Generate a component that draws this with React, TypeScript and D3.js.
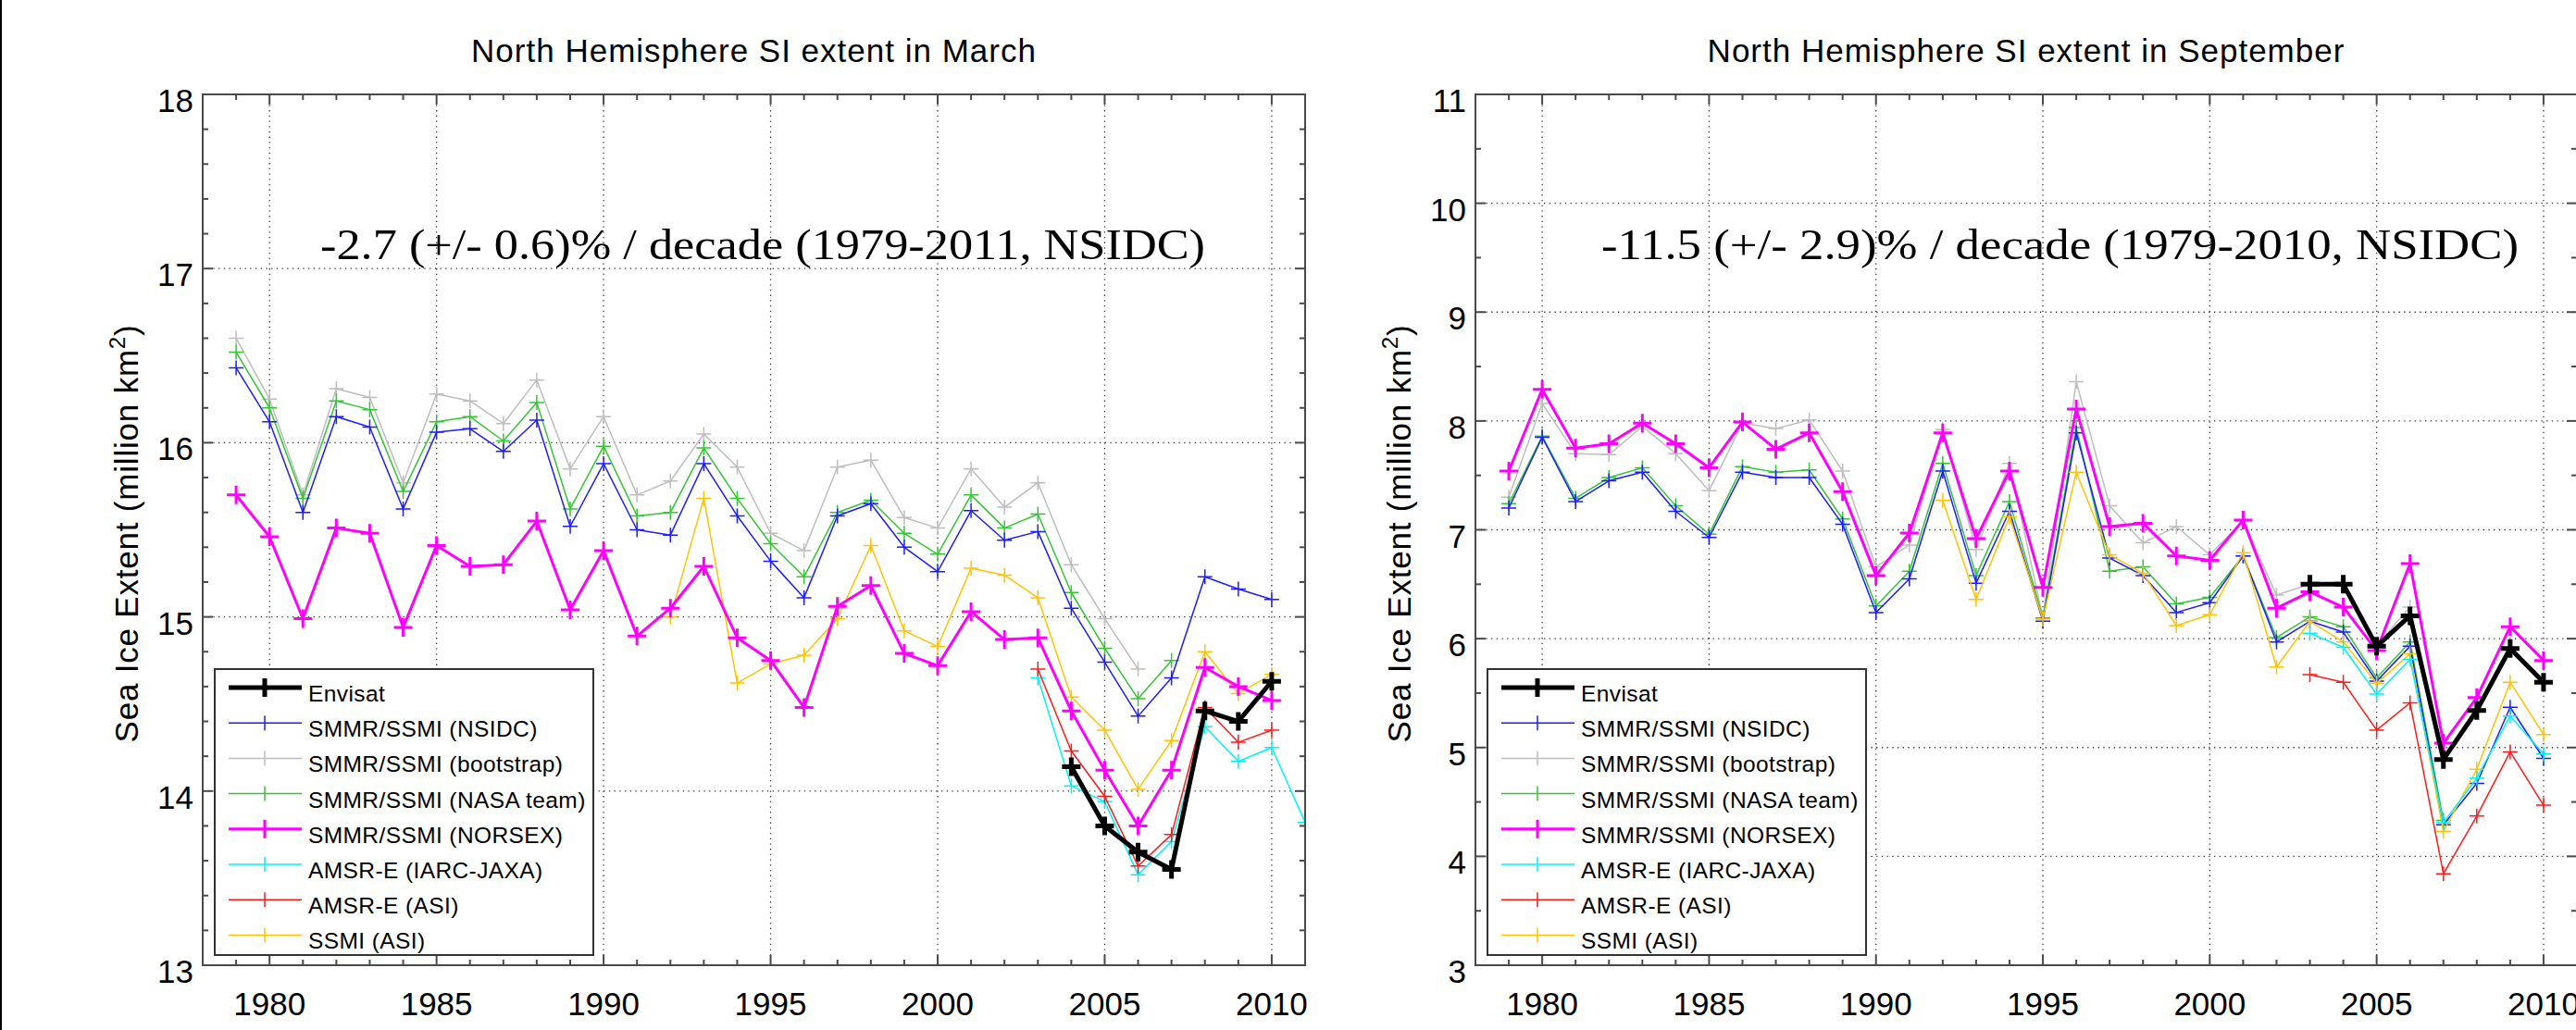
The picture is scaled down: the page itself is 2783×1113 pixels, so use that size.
import React, { useEffect } from 'react';
import * as d3 from 'd3';

// ---------- DATA ----------
const years = [1979, 1980, 1981, 1982, 1983, 1984, 1985, 1986, 1987, 1988, 1989, 1990, 1991, 1992, 1993, 1994, 1995, 1996, 1997, 1998, 1999, 2000, 2001, 2002, 2003, 2004, 2005, 2006, 2007, 2008, 2009, 2010, 2011];

// March (values in million km^2)
const marNsidc = [16.43, 16.12, 15.60, 16.15, 16.09, 15.62, 16.06, 16.08, 15.95, 16.13, 15.52, 15.88, 15.50, 15.47, 15.88, 15.58, 15.32, 15.11, 15.58, 15.65, 15.40, 15.26, 15.61, 15.44, 15.49, 15.05, 14.74, 14.43, 14.65, 15.23, 15.16, 15.10];
const marBootstrap = [16.60, 16.25, 15.70, 16.31, 16.26, 15.77, 16.28, 16.24, 16.11, 16.36, 15.85, 16.15, 15.70, 15.78, 16.05, 15.86, 15.48, 15.38, 15.86, 15.90, 15.57, 15.51, 15.85, 15.63, 15.77, 15.30, 14.99, 14.70];
const marNasa = [16.52, 16.20, 15.68, 16.24, 16.19, 15.72, 16.12, 16.15, 16.01, 16.23, 15.62, 15.98, 15.58, 15.60, 15.97, 15.68, 15.42, 15.23, 15.60, 15.67, 15.48, 15.36, 15.70, 15.51, 15.59, 15.14, 14.82, 14.53, 14.75];
const marNorsex = [15.70, 15.46, 14.99, 15.51, 15.48, 14.94, 15.41, 15.29, 15.30, 15.55, 15.04, 15.38, 14.89, 15.05, 15.29, 14.88, 14.75, 14.48, 15.06, 15.18, 14.79, 14.72, 15.03, 14.87, 14.88, 14.46, 14.12, 13.80, 14.12, 14.71, 14.60, 14.52];
const marSsmiAsi = [15.00, 15.68, 14.62, 14.73, 14.78, 14.99, 15.41, 14.92, 14.83, 15.28, 15.24, 15.11, 14.54, 14.35, 14.01, 14.29, 14.80, 14.56, 14.67];
const marAmsrAsi = [14.70, 14.23, 13.97, 13.57, 13.75, 14.48, 14.28, 14.35];
const marJaxa = [14.65, 14.03, 13.94, 13.52, 13.71, 14.37, 14.17, 14.25, 13.82];
const marEnvisat = [14.14, 13.80, 13.65, 13.55, 14.46, 14.40, 14.63];

// September
const sepNsidc = [7.20, 7.85, 7.26, 7.45, 7.53, 7.17, 6.93, 7.53, 7.48, 7.48, 7.05, 6.24, 6.55, 7.54, 6.51, 7.17, 6.16, 7.89, 6.74, 6.58, 6.24, 6.33, 6.76, 5.97, 6.16, 6.06, 5.61, 5.93, 4.29, 4.67, 5.37, 4.90];
const sepBootstrap = [7.30, 8.16, 7.70, 7.69, 7.95, 7.70, 7.36, 7.98, 7.93, 8.01, 7.54, 6.66, 6.86, 7.92, 6.82, 7.61, 6.19, 8.36, 7.22, 6.88, 7.03, 6.77, 7.08, 6.40, 6.50, 6.50, 5.94, 6.29];
const sepNasa = [7.24, 7.86, 7.29, 7.48, 7.57, 7.22, 6.96, 7.58, 7.53, 7.55, 7.10, 6.30, 6.62, 7.61, 6.58, 7.26, 6.19, 7.94, 6.62, 6.66, 6.32, 6.38, 6.76, 6.01, 6.20, 6.11, 5.64, 5.97, 4.33];
const sepNorsex = [7.54, 8.29, 7.75, 7.79, 7.98, 7.79, 7.57, 7.99, 7.74, 7.89, 7.35, 6.58, 6.97, 7.89, 6.92, 7.54, 6.47, 8.11, 7.03, 7.06, 6.76, 6.72, 7.09, 6.28, 6.43, 6.29, 5.89, 6.69, 5.04, 5.46, 6.11, 5.80];
const sepSsmiAsi = [7.27, 6.36, 7.12, 6.18, 7.53, 6.77, 6.60, 6.12, 6.22, 6.79, 5.74, 6.16, 5.97, 5.59, 5.86, 4.23, 4.80, 5.60, 5.12];
const sepAmsrAsi = [5.67, 5.60, 5.16, 5.41, 3.84, 4.37, 4.96, 4.47];
const sepJaxa = [6.05, 5.92, 5.49, 5.81, 4.31, 4.72, 5.29, 4.94];
const sepEnvisat = [6.50, 6.50, 5.93, 6.21, 4.89, 5.34, 5.91, 5.60];

const legendLabels = ['Envisat', 'SMMR/SSMI (NSIDC)', 'SMMR/SSMI (bootstrap)', 'SMMR/SSMI (NASA team)', 'SMMR/SSMI (NORSEX)', 'AMSR-E (IARC-JAXA)', 'AMSR-E (ASI)', 'SSMI (ASI)'];
const xTickLabels = [1980, 1985, 1990, 1995, 2000, 2005, 2010];
const marYTicks = [13, 14, 15, 16, 17, 18];
const sepYTicks = [3, 4, 5, 6, 7, 8, 9, 10, 11];

// ---------- STYLES ----------
const styles: Record<string, { color: string; width: number; mark: number }> = {
  envisat: { color: '#000000', width: 5, mark: 10 },
  nsidc: { color: '#1c1cff', width: 1.5, mark: 8 },
  bootstrap: { color: '#bdbdbd', width: 1.5, mark: 8 },
  nasa: { color: '#36c436', width: 1.5, mark: 8 },
  norsex: { color: '#ff00ff', width: 3, mark: 10 },
  jaxa: { color: '#00f4f4', width: 1.5, mark: 8 },
  asi: { color: '#ff1a1a', width: 1.5, mark: 8 },
  ssmi: { color: '#ffc400', width: 1.5, mark: 8 },
};
const legendKeys = ['envisat', 'nsidc', 'bootstrap', 'nasa', 'norsex', 'jaxa', 'asi', 'ssmi'];
const drawOrder = ['bootstrap', 'nasa', 'nsidc', 'ssmi', 'norsex', 'jaxa', 'asi', 'envisat'];

type SeriesDef = { key: string; start: number; values: number[] };

const marchSeries: SeriesDef[] = [
  { key: 'nsidc', start: 1979, values: marNsidc },
  { key: 'bootstrap', start: 1979, values: marBootstrap },
  { key: 'nasa', start: 1979, values: marNasa },
  { key: 'norsex', start: 1979, values: marNorsex },
  { key: 'ssmi', start: 1992, values: marSsmiAsi },
  { key: 'asi', start: 2003, values: marAmsrAsi },
  { key: 'jaxa', start: 2003, values: marJaxa },
  { key: 'envisat', start: 2004, values: marEnvisat },
];
const septSeries: SeriesDef[] = [
  { key: 'nsidc', start: 1979, values: sepNsidc },
  { key: 'bootstrap', start: 1979, values: sepBootstrap },
  { key: 'nasa', start: 1979, values: sepNasa },
  { key: 'norsex', start: 1979, values: sepNorsex },
  { key: 'ssmi', start: 1992, values: sepSsmiAsi },
  { key: 'asi', start: 2003, values: sepAmsrAsi },
  { key: 'jaxa', start: 2003, values: sepJaxa },
  { key: 'envisat', start: 2003, values: sepEnvisat },
];

const FONT = '"Liberation Sans", Arial, Helvetica, sans-serif';
const SERIF = '"Liberation Serif", "Times New Roman", serif';
const AXIS = '#4a4a4a';

type PanelProps = {
  id: string;
  x0: number; x1: number; y0: number; y1: number;
  yDomain: [number, number];
  yMinorStep: number;
  yTicks: number[];
  series: SeriesDef[];
  title: string;
  note: string;
  noteX: number; noteLen: number;
};

function plusPath(x: number, y: number, s: number) {
  return `M${x - s},${y}H${x + s}M${x},${y - s}V${y + s}`;
}

function Panel(p: PanelProps) {
  const x = d3.scaleLinear().domain([1978, 2011]).range([p.x0, p.x1]);
  const y = d3.scaleLinear().domain(p.yDomain).range([p.y1, p.y0]);
  const line = d3.line<[number, number]>().x(d => x(d[0])).y(d => y(d[1]));
  const minorX = d3.range(1978, 2012, 1);
  const nMinorY = Math.round((p.yDomain[1] - p.yDomain[0]) / p.yMinorStep);
  const minorY = d3.range(0, nMinorY + 1).map(i => p.yDomain[0] + i * p.yMinorStep);
  const byKey: Record<string, SeriesDef> = {};
  p.series.forEach(s => (byKey[s.key] = s));
  const cx = (p.x0 + p.x1) / 2;
  const cy = (p.y0 + p.y1) / 2;
  const gridStyle = { stroke: '#333', strokeWidth: 1.3, strokeDasharray: '1.3 4.4' };
  const lgX = p.x0 + 13, lgY = 723, lgW = 409, lgH = 309;
  return (
    <g>
      <defs>
        <clipPath id={`clip-${p.id}`}>
          <rect x={p.x0} y={p.y0} width={p.x1 - p.x0} height={p.y1 - p.y0} />
        </clipPath>
      </defs>
      {/* grid */}
      {xTickLabels.map(t => (
        <line key={`gx${t}`} x1={x(t)} x2={x(t)} y1={p.y0} y2={p.y1} {...gridStyle} />
      ))}
      {p.yTicks.filter(t => t > p.yDomain[0] && t < p.yDomain[1]).map(t => (
        <line key={`gy${t}`} x1={p.x0} x2={p.x1} y1={y(t)} y2={y(t)} {...gridStyle} />
      ))}
      {/* data */}
      <g clipPath={`url(#clip-${p.id})`}>
        {drawOrder.map(k => {
          const s = byKey[k];
          if (!s) return null;
          const st = styles[k];
          const startIdx = years.indexOf(s.start);
          const pts: [number, number][] = s.values.map((v, i) => [years[startIdx + i], v]);
          return (
            <g key={k}>
              <path d={line(pts) || ''} fill="none" stroke={st.color} strokeWidth={st.width} strokeLinejoin="round" />
              <path d={pts.map(d => plusPath(x(d[0]), y(d[1]), st.mark)).join('')} fill="none" stroke={st.color} strokeWidth={st.width} />
            </g>
          );
        })}
      </g>
      {/* frame */}
      <rect x={p.x0} y={p.y0} width={p.x1 - p.x0} height={p.y1 - p.y0} fill="none" stroke={AXIS} strokeWidth={2} />
      {/* x ticks */}
      {minorX.map(t => {
        const major = t % 5 === 0;
        const L = major ? 11 : 6;
        return (
          <g key={`tx${t}`}>
            <line x1={x(t)} x2={x(t)} y1={p.y1} y2={p.y1 - L} stroke={AXIS} strokeWidth={2} />
            <line x1={x(t)} x2={x(t)} y1={p.y0} y2={p.y0 + L} stroke={AXIS} strokeWidth={2} />
          </g>
        );
      })}
      {minorY.map((t, i) => {
        const major = Math.abs(t - Math.round(t)) < 1e-6;
        const L = major ? 11 : 6;
        return (
          <g key={`ty${i}`}>
            <line x1={p.x0} x2={p.x0 + L} y1={y(t)} y2={y(t)} stroke={AXIS} strokeWidth={2} />
            <line x1={p.x1} x2={p.x1 - L} y1={y(t)} y2={y(t)} stroke={AXIS} strokeWidth={2} />
          </g>
        );
      })}
      {/* tick labels */}
      {xTickLabels.map(t => (
        <text key={`lx${t}`} x={x(t)} y={1097} textAnchor="middle" fontFamily={FONT} fontSize={35} fill="#000">{t}</text>
      ))}
      {p.yTicks.map(t => (
        <text key={`ly${t}`} x={p.x0 - 10} y={y(t) + 19} textAnchor="end" fontFamily={FONT} fontSize={35} fill="#000">{t}</text>
      ))}
      {/* axis title */}
      <text transform={`translate(${p.x0 - 70},${cy + 4}) rotate(-90)`} textAnchor="middle" fontFamily={FONT} fontSize={35} letterSpacing={0.8} fill="#000">
        Sea Ice Extent (million km<tspan dy={-14} fontSize={24}>2</tspan><tspan dy={14}>)</tspan>
      </text>
      {/* title */}
      <text x={cx} y={67} textAnchor="middle" fontFamily={FONT} fontSize={35} letterSpacing={1} fill="#000">{p.title}</text>
      {/* note */}
      <text x={p.noteX} y={280} fontFamily={SERIF} fontSize={46} fill="#000" textLength={p.noteLen} lengthAdjust="spacingAndGlyphs">{p.note}</text>
      {/* legend */}
      <rect x={lgX} y={lgY} width={lgW} height={lgH} fill="#fff" stroke="#333" strokeWidth={2} />
      {legendKeys.map((k, i) => {
        const st = styles[k];
        const ly = lgY + 20 + i * 38.2;
        const lx0 = lgX + 15;
        const lx1 = lgX + 94;
        const mx = lgX + 54;
        return (
          <g key={`lg${k}`}>
            <line x1={lx0} x2={lx1} y1={ly} y2={ly} stroke={st.color} strokeWidth={st.width} />
            <line x1={mx} x2={mx} y1={ly - st.mark} y2={ly + st.mark} stroke={st.color} strokeWidth={st.width} />
            <text x={lgX + 101} y={ly + 15} fontFamily={FONT} fontSize={24.5} letterSpacing={0.4} fill="#000">{legendLabels[i]}</text>
          </g>
        );
      })}
    </g>
  );
}

export default function App() {
  useEffect(() => {
    document.body.style.margin = '0';
    document.body.style.overflow = 'hidden';
  }, []);
  return (
    <svg width={2783} height={1113} viewBox="0 0 2783 1113" style={{ position: 'absolute', left: 0, top: 0, background: '#fff' }}>
      <rect x={0} y={0} width={2783} height={1113} fill="#fff" />
      <Panel id="mar" x0={219} x1={1410} y0={102} y1={1043} yDomain={[13, 18]} yMinorStep={0.2} yTicks={marYTicks}
        series={marchSeries} title="North Hemisphere SI extent in March"
        note="-2.7 (+/- 0.6)% / decade (1979-2011, NSIDC)" noteX={346} noteLen={956} />
      <Panel id="sep" x0={1594} x1={2784} y0={102} y1={1043} yDomain={[3, 11]} yMinorStep={0.5} yTicks={sepYTicks}
        series={septSeries} title="North Hemisphere SI extent in September"
        note="-11.5 (+/- 2.9)% / decade (1979-2010, NSIDC)" noteX={1730} noteLen={991} />
      <rect x={0} y={0} width={2} height={1113} fill="#000" />
    </svg>
  );
}
